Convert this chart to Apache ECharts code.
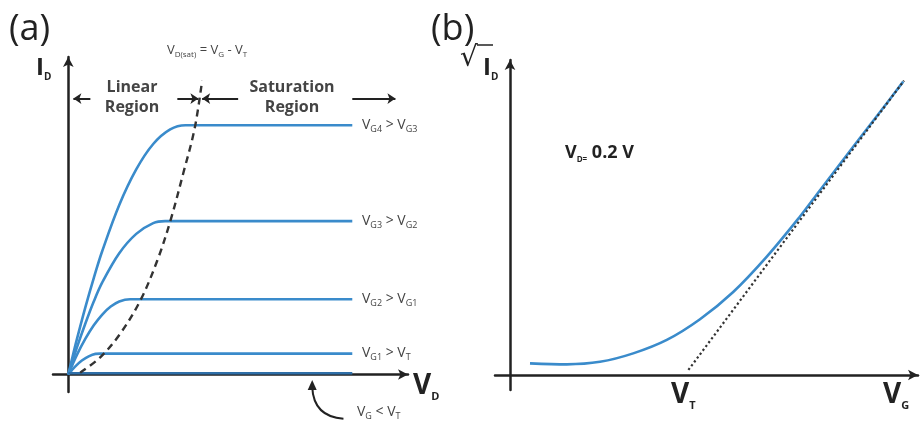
<!DOCTYPE html>
<html>
<head>
<meta charset="utf-8">
<script src="https://cdn.jsdelivr.net/npm/echarts@6/dist/echarts.min.js"></script>
<style>
	html, body { margin: 0; padding: 0; background: #fff; }
</style>
</head>
<body>
<div id="myChart" style="width: 920px; height: 426px;"></div>
<script>
	// (a) 输出特性曲线 I_D - V_D
	var vd4 = [0, 0.1, 0.25, 0.5, 0.75, 1.0, 1.5, 2.0, 2.5, 3.0, 3.45, 4.0, 8.36];
	var id4 = [0, 0.45, 1.10, 2.11, 3.04, 3.89, 5.34, 6.46, 7.26, 7.72, 7.85, 7.85, 7.85];
	var vd3 = [0, 0.1, 0.25, 0.5, 0.75, 1.0, 1.5, 2.0, 2.5, 2.85, 3.4, 8.36];
	var id3 = [0, 0.34, 0.84, 1.60, 2.30, 2.90, 3.82, 4.43, 4.77, 4.83, 4.83, 4.83];
	var vd2 = [0, 0.1, 0.25, 0.5, 0.75, 1.0, 1.25, 1.5, 1.82, 2.3, 8.36];
	var id2 = [0, 0.25, 0.61, 1.12, 1.55, 1.89, 2.14, 2.30, 2.37, 2.37, 2.37];
	var vd1 = [0, 0.1, 0.2, 0.4, 0.6, 0.8, 0.94, 1.3, 8.36];
	var id1 = [0, 0.13, 0.25, 0.44, 0.57, 0.65, 0.66, 0.66, 0.66];
	var vd0 = [0, 8.36];
	var id0 = [0.04, 0.04];
	// V_D(sat) 虚线
	var vdSat = [0.35, 0.94, 1.53, 2.12, 2.62, 3.00, 3.40, 3.72, 3.94];
	var idSat = [0.06, 0.54, 1.29, 2.33, 3.59, 4.82, 6.40, 7.75, 9.26];
	// V_G < V_T 的弯箭头 (数据坐标)
	var bendX = [8.10, 7.22, 7.18];
	var bendY = [-1.39, -1.33, -0.20];

	// (b) 转移特性 sqrt(I_D) - V_G
	var vgB = [0.5, 1.42, 2.25, 3.08, 3.92, 4.75, 5.58, 6.42, 7.25, 7.75, 8.58, 9.42, 9.83];
	var sqB = [0.37, 0.34, 0.42, 0.69, 1.12, 1.78, 2.65, 3.78, 5.06, 5.90, 7.29, 8.68, 9.37];
	var vgT = [4.46, 9.85];
	var sqT = [0.16, 9.40];

	var blue = '#3a8bcb';
	var ink = '#222';
	var grey = '#444';
	var font = '"Open Sans", "DejaVu Sans", sans-serif';

	function pairs(xs, ys) {
		var out = [];
		for (let i = 0; i < xs.length; i++) {
			out.push([xs[i], ys[i]]);
		}
		return out;
	}

	function curve(xs, ys, gi) {
		return {
			type: 'line',
			xAxisIndex: gi,
			yAxisIndex: gi,
			data: pairs(xs, ys),
			showSymbol: false,
			smooth: 0.35,
			lineStyle: { color: blue, width: 2.6 },
			z: 3
		};
	}

	function axisPair(gi, xmin, xmax, ymin, ymax) {
		var line = {
			show: true,
			onZero: true,
			symbol: ['none', 'arrow'],
			symbolSize: [8, 10],
			lineStyle: { color: ink, width: 2.5 }
		};
		return {
			x: { type: 'value', gridIndex: gi, min: xmin, max: xmax, axisLine: line,
				axisTick: { show: false }, axisLabel: { show: false }, splitLine: { show: false } },
			y: { type: 'value', gridIndex: gi, min: ymin, max: ymax, axisLine: line,
				axisTick: { show: false }, axisLabel: { show: false }, splitLine: { show: false } }
		};
	}

	var axA = axisPair(0, -0.45, 10, -0.55, 10);
	var axB = axisPair(1, -0.375, 10.2, -0.48, 10.06);

	function label(x, y, text, big, small, weight, color, align) {
		var c = color || grey;
		return {
			type: 'text',
			x: x,
			y: y,
			z: 10,
			style: {
				text: text,
				rich: {
					v: { fontSize: big, fontFamily: font, fontWeight: weight, fill: c, lineHeight: big + 4 },
					s: { fontSize: small, fontFamily: font, fontWeight: weight, fill: c, lineHeight: big + 4, verticalAlign: 'bottom' }
				},
				align: align || 'left',
				verticalAlign: 'middle'
			}
		};
	}

	var regionArrows = [
		[{ coord: [0.65, 8.69] }, { coord: [0.15, 8.69] }],
		[{ coord: [3.21, 8.69] }, { coord: [3.83, 8.69] }],
		[{ coord: [5.00, 8.69] }, { coord: [3.94, 8.69] }],
		[{ coord: [8.36, 8.69] }, { coord: [9.63, 8.69] }]
	];

	var option = {
		animation: false,
		backgroundColor: '#fff',
		grid: [
			{ left: 53, top: 57, width: 355, height: 335 },
			{ left: 495, top: 60, width: 423, height: 330 }
		],
		xAxis: [axA.x, axB.x],
		yAxis: [axA.y, axB.y],
		series: [
			curve(vd4, id4, 0),
			curve(vd3, id3, 0),
			curve(vd2, id2, 0),
			curve(vd1, id1, 0),
			{
				type: 'line',
				data: pairs(vd0, id0),
				showSymbol: false,
				clip: false,
				lineStyle: { color: '#2f6fa8', width: 2.6 },
				z: 4,
				markLine: {
					silent: true,
					symbol: ['none', 'arrow'],
					symbolSize: 8,
					label: { show: false },
					lineStyle: { color: ink, width: 2, type: 'solid' },
					data: regionArrows
				}
			},
			{
				type: 'line',
				data: pairs(vdSat, idSat),
				showSymbol: false,
				smooth: 0.35,
				lineStyle: { color: '#333', width: 2.4, type: [7, 5] },
				z: 5
			},
			curve(vgB, sqB, 1),
			{
				type: 'line',
				xAxisIndex: 1,
				yAxisIndex: 1,
				data: pairs(vgT, sqT),
				showSymbol: false,
				lineStyle: { color: '#333', width: 2.2, type: [2.2, 2.6] },
				z: 5
			}
		],
		graphic: [
			{ type: 'text', x: 9, y: 30, style: { text: '(a)', font: '36px ' + font, fill: ink, verticalAlign: 'middle' } },
			{ type: 'text', x: 431, y: 30, style: { text: '(b)', font: '36px ' + font, fill: ink, verticalAlign: 'middle' } },
			label(36, 68, '{v|I}{s|D}', 24, 10, 'bold', ink),
			{ type: 'text', x: 460, y: 59, style: { text: '√', font: '28px "DejaVu Sans", sans-serif', fill: ink, verticalAlign: 'middle' } },
			{ type: 'line', shape: { x1: 477, y1: 45, x2: 493, y2: 45 }, style: { stroke: ink, lineWidth: 1.5 } },
			label(483, 68, '{v|I}{s|D}', 24, 10, 'bold', ink),
			label(207, 50, '{v|V}{s|D(sat)}{v| = V}{s|G}{v| - V}{s|T}', 13, 8, 'normal', grey, 'center'),
			{ type: 'text', x: 132, y: 97, style: { text: 'Linear\nRegion', font: 'bold 16px ' + font, lineHeight: 20, fill: grey, align: 'center', verticalAlign: 'middle' } },
			{ type: 'text', x: 292, y: 97, style: { text: 'Saturation\nRegion', font: 'bold 16px ' + font, lineHeight: 20, fill: grey, align: 'center', verticalAlign: 'middle' } },
			label(362, 125, '{v|V}{s|G4}{v| > V}{s|G3}', 14, 9, 'normal', grey),
			label(362, 221, '{v|V}{s|G3}{v| > V}{s|G2}', 14, 9, 'normal', grey),
			label(362, 299, '{v|V}{s|G2}{v| > V}{s|G1}', 14, 9, 'normal', grey),
			label(362, 353, '{v|V}{s|G1}{v| > V}{s|T}', 14, 9, 'normal', grey),
			label(357, 412, '{v|V}{s|G}{v| < V}{s|T}', 14, 9, 'normal', grey),
			label(413, 386, '{v|V}{s|D}', 28, 11, 'bold', ink),
			label(565, 153, '{v|V}{s|D=}{v| 0.2 V}', 18, 8, 'bold', ink),
			label(671, 395, '{v|V}{s|T}', 28, 11, 'bold', ink),
			label(883, 395, '{v|V}{s|G}', 28, 11, 'bold', ink)
		]
	};

	var myChart = echarts.init(document.getElementById('myChart'));
	myChart.setOption(option);

	// 弯箭头在坐标轴范围外，用 graphic 画，位置由坐标系换算
	var p0 = myChart.convertToPixel({ gridIndex: 0 }, [bendX[0], bendY[0]]);
	var p1 = myChart.convertToPixel({ gridIndex: 0 }, [bendX[1], bendY[1]]);
	var p2 = myChart.convertToPixel({ gridIndex: 0 }, [bendX[2], bendY[2]]);
	myChart.setOption({
		graphic: [
			{
				id: 'bend',
				type: 'bezierCurve',
				shape: { x1: p0[0], y1: p0[1], cpx1: p1[0], cpy1: p1[1], x2: p2[0], y2: p2[1] + 6 },
				style: { stroke: ink, lineWidth: 2, fill: null }
			},
			{
				id: 'bendHead',
				type: 'polygon',
				shape: { points: [[p2[0], p2[1] - 1], [p2[0] - 4.5, p2[1] + 9], [p2[0] + 4.5, p2[1] + 9]] },
				style: { fill: ink }
			}
		]
	});
</script>
</body>
</html>
